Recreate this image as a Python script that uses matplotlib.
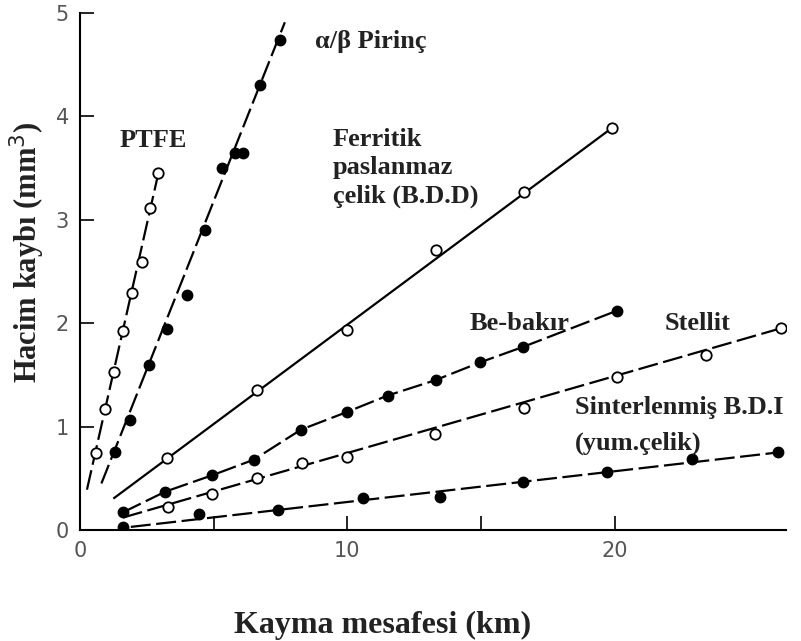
import matplotlib
matplotlib.use("Agg")
import matplotlib.pyplot as plt

# --- data ---
ptfe_x = [0.6, 0.93, 1.28, 1.6, 1.95, 2.3, 2.62, 2.93]
ptfe_y = [0.74, 1.17, 1.53, 1.92, 2.29, 2.59, 3.11, 3.45]
ptfe_line_x = [0.26, 2.93]
ptfe_line_y = [0.39, 3.45]

pirinc_x = [1.31, 1.87, 2.58, 3.25, 4.0, 4.67, 5.3, 5.8, 6.1, 6.73, 7.48]
pirinc_y = [0.75, 1.06, 1.6, 1.94, 2.27, 2.9, 3.5, 3.65, 3.65, 4.3, 4.74]
pirinc_line_x = [0.8, 7.66]
pirinc_line_y = [0.45, 4.91]

ferrit_x = [3.25, 6.62, 10.0, 13.3, 16.6, 19.9]
ferrit_y = [0.70, 1.35, 1.93, 2.71, 3.27, 3.89]
ferrit_line_x = [1.28, 19.9]
ferrit_line_y = [0.31, 3.89]

bebakir_x = [1.6, 3.18, 4.95, 6.5, 8.26, 9.97, 11.5, 13.3, 14.95, 16.56, 20.07]
bebakir_y = [0.17, 0.37, 0.53, 0.68, 0.97, 1.14, 1.30, 1.45, 1.62, 1.77, 2.12]

stellit_x = [3.3, 4.95, 6.62, 8.3, 9.97, 13.27, 16.6, 20.07, 23.4, 26.2]
stellit_y = [0.22, 0.35, 0.50, 0.65, 0.71, 0.93, 1.18, 1.48, 1.69, 1.95]
stellit_line_x = [1.6, 26.2]
stellit_line_y = [0.12, 1.95]

sinter_x = [1.6, 4.45, 7.4, 10.6, 13.46, 16.56, 19.7, 22.9, 26.1]
sinter_y = [0.03, 0.15, 0.19, 0.31, 0.32, 0.46, 0.56, 0.69, 0.75]
sinter_line_x = [1.9, 26.1]
sinter_line_y = [0.03, 0.75]

x_ticks = [0, 5, 10, 15, 20]
x_ticklabels = ["0", "", "10", "", "20"]
y_ticks = [0, 1, 2, 3, 4, 5]
y_ticklabels = ["0", "1", "2", "3", "4", "5"]

serif = ["Liberation Serif", "DejaVu Serif"]

fig = plt.figure(figsize=(8.01, 6.41), dpi=100)
ax = fig.add_axes([80 / 801, (641 - 530) / 641, 706 / 801, (530 - 13) / 641])

lw = 1.6
ms = 7.5
dash = (0, (9, 2.5))

# PTFE
ax.plot(ptfe_line_x, ptfe_line_y, color="black", lw=lw, ls=dash)
ax.plot(ptfe_x, ptfe_y, "o", mfc="white", mec="black", mew=1.3, ms=ms)
# alpha/beta brass
ax.plot(pirinc_line_x, pirinc_line_y, color="black", lw=lw, ls=dash)
ax.plot(pirinc_x, pirinc_y, "o", mfc="black", mec="black", ms=ms)
# ferritic stainless
ax.plot(ferrit_line_x, ferrit_line_y, color="black", lw=lw)
ax.plot(ferrit_x, ferrit_y, "o", mfc="white", mec="black", mew=1.3, ms=ms)
# Be-copper
ax.plot(bebakir_x, bebakir_y, color="black", lw=lw, ls=dash)
ax.plot(bebakir_x, bebakir_y, "o", mfc="black", mec="black", ms=ms)
# Stellite
ax.plot(stellit_line_x, stellit_line_y, color="black", lw=lw, ls=dash)
ax.plot(stellit_x, stellit_y, "o", mfc="white", mec="black", mew=1.3, ms=ms)
# Sintered
ax.plot(sinter_line_x, sinter_line_y, color="black", lw=lw, ls=dash)
ax.plot(sinter_x, sinter_y, "o", mfc="black", mec="black", ms=ms)

ax.set_xlim(0, 26.4)
ax.set_ylim(0, 5)
for s in ["top", "right"]:
    ax.spines[s].set_visible(False)
ax.spines["left"].set_linewidth(1.5)
ax.spines["bottom"].set_linewidth(1.5)

ax.set_xticks(x_ticks)
ax.set_xticklabels(x_ticklabels)
ax.set_yticks(y_ticks)
ax.set_yticklabels(y_ticklabels)
ax.tick_params(axis="both", direction="in", length=10, width=1.2,
               labelsize=15, labelcolor="#555555", pad=8)

ax.set_xlabel("Kayma mesafesi (km)", fontsize=23, fontweight="bold",
              family=serif, color="#222222")
ax.xaxis.set_label_coords((383 - 80) / 706, (530 - 625) / 517)
ax.xaxis.label.set_va("center")
ax.set_ylabel("Hacim kaybı (mm$^3$)", fontsize=22, fontweight="bold",
              family=serif, color="#222222")
ax.yaxis.set_label_coords((27 - 80) / 706, (530 - 252) / 517)
ax.yaxis.label.set_va("center")

tkw = dict(fontsize=19, fontweight="bold", family=serif, color="#222222")
ax.text(2.73, 3.77, "PTFE", ha="center", va="center", **tkw)
ax.text(8.78, 4.72, "α/β Pirinç", ha="left", va="center", **tkw)
ax.text(9.45, 3.5, "Ferritik\npaslanmaz\nçelik (B.D.D)", ha="left", va="center",
        linespacing=1.3, **tkw)
ax.text(16.45, 2.0, "Be-bakır", ha="center", va="center", **tkw)
ax.text(23.1, 2.0, "Stellit", ha="center", va="center", **tkw)
ax.text(18.5, 1.18, "Sinterlenmiş B.D.I", ha="left", va="center", **tkw)
ax.text(18.5, 0.84, "(yum.çelik)", ha="left", va="center", **tkw)

fig.savefig("out.png", dpi=100)
